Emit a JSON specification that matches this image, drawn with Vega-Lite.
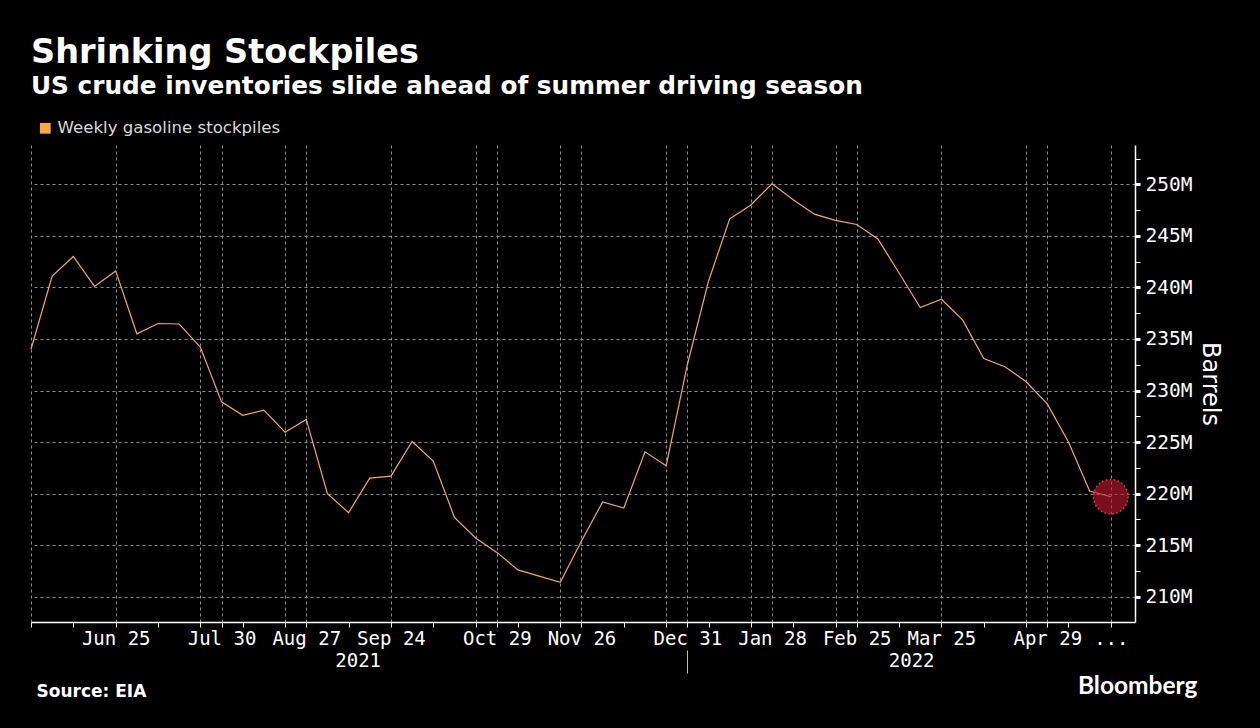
{
  "$schema": "https://vega.github.io/schema/vega-lite/v6.json",
  "width": 1104,
  "height": 477,
  "autosize": {"type": "none"},
  "padding": {"left": 31, "top": 145, "right": 125, "bottom": 106},
  "background": "#000000",
  "title": {
    "text": "Shrinking Stockpiles",
    "subtitle": "US crude inventories slide ahead of summer driving season",
    "anchor": "start",
    "frame": "group",
    "font": "DejaVu Sans",
    "fontSize": 33.5,
    "fontWeight": "bold",
    "color": "#ffffff",
    "subtitleFont": "DejaVu Sans",
    "subtitleFontSize": 24.75,
    "subtitleFontWeight": "bold",
    "subtitleColor": "#ffffff",
    "subtitlePadding": 4,
    "offset": 20
  },
  "config": {"view": {"stroke": null}},
  "data": {
    "values": [
      {"date": "2021-05-28", "value": 234.0},
      {"date": "2021-06-04", "value": 241.1},
      {"date": "2021-06-11", "value": 243.0},
      {"date": "2021-06-18", "value": 240.1},
      {"date": "2021-06-25", "value": 241.6},
      {"date": "2021-07-02", "value": 235.5},
      {"date": "2021-07-09", "value": 236.5},
      {"date": "2021-07-16", "value": 236.45},
      {"date": "2021-07-23", "value": 234.2},
      {"date": "2021-07-30", "value": 228.9},
      {"date": "2021-08-06", "value": 227.6},
      {"date": "2021-08-13", "value": 228.1},
      {"date": "2021-08-20", "value": 225.95},
      {"date": "2021-08-27", "value": 227.2},
      {"date": "2021-09-03", "value": 220.0},
      {"date": "2021-09-10", "value": 218.15},
      {"date": "2021-09-17", "value": 221.5},
      {"date": "2021-09-24", "value": 221.7},
      {"date": "2021-10-01", "value": 225.05},
      {"date": "2021-10-08", "value": 223.15},
      {"date": "2021-10-15", "value": 217.7},
      {"date": "2021-10-22", "value": 215.7},
      {"date": "2021-10-29", "value": 214.3},
      {"date": "2021-11-05", "value": 212.6},
      {"date": "2021-11-12", "value": 212.0},
      {"date": "2021-11-19", "value": 211.4},
      {"date": "2021-11-26", "value": 215.4},
      {"date": "2021-12-03", "value": 219.2},
      {"date": "2021-12-10", "value": 218.6},
      {"date": "2021-12-17", "value": 224.05},
      {"date": "2021-12-24", "value": 222.7},
      {"date": "2021-12-31", "value": 232.5},
      {"date": "2022-01-07", "value": 240.6},
      {"date": "2022-01-14", "value": 246.65},
      {"date": "2022-01-21", "value": 248.0},
      {"date": "2022-01-28", "value": 250.05},
      {"date": "2022-02-04", "value": 248.5},
      {"date": "2022-02-11", "value": 247.1},
      {"date": "2022-02-18", "value": 246.5},
      {"date": "2022-02-25", "value": 246.1},
      {"date": "2022-03-04", "value": 244.7},
      {"date": "2022-03-11", "value": 241.4},
      {"date": "2022-03-18", "value": 238.05},
      {"date": "2022-03-25", "value": 238.85},
      {"date": "2022-04-01", "value": 236.85},
      {"date": "2022-04-08", "value": 233.1},
      {"date": "2022-04-15", "value": 232.3},
      {"date": "2022-04-22", "value": 230.85},
      {"date": "2022-04-29", "value": 228.7},
      {"date": "2022-05-06", "value": 225.0},
      {"date": "2022-05-13", "value": 220.25},
      {"date": "2022-05-20", "value": 219.7}
    ]
  },
  "layer": [
    {
      "mark": {"type": "line", "strokeWidth": 1.2, "interpolate": "linear"},
      "encoding": {
        "x": {
          "field": "date",
          "type": "temporal",
          "scale": {
            "type": "utc",
            "domain": [
              {"year": 2021, "month": 5, "date": 28, "utc": true},
              {"year": 2022, "month": 5, "date": 28, "utc": true}
            ]
          },
          "axis": {
            "orient": "bottom",
            "values": [
              {"year": 2021, "month": 5, "date": 28, "utc": true},
              {"year": 2021, "month": 6, "date": 11, "utc": true},
              {"year": 2021, "month": 6, "date": 25, "utc": true},
              {"year": 2021, "month": 7, "date": 9, "utc": true},
              {"year": 2021, "month": 7, "date": 23, "utc": true},
              {"year": 2021, "month": 7, "date": 30, "utc": true},
              {"year": 2021, "month": 8, "date": 6, "utc": true},
              {"year": 2021, "month": 8, "date": 20, "utc": true},
              {"year": 2021, "month": 8, "date": 27, "utc": true},
              {"year": 2021, "month": 9, "date": 10, "utc": true},
              {"year": 2021, "month": 9, "date": 24, "utc": true},
              {"year": 2021, "month": 10, "date": 8, "utc": true},
              {"year": 2021, "month": 10, "date": 22, "utc": true},
              {"year": 2021, "month": 10, "date": 29, "utc": true},
              {"year": 2021, "month": 11, "date": 5, "utc": true},
              {"year": 2021, "month": 11, "date": 19, "utc": true},
              {"year": 2021, "month": 11, "date": 26, "utc": true},
              {"year": 2021, "month": 12, "date": 10, "utc": true},
              {"year": 2021, "month": 12, "date": 24, "utc": true},
              {"year": 2021, "month": 12, "date": 31, "utc": true},
              {"year": 2022, "month": 1, "date": 7, "utc": true},
              {"year": 2022, "month": 1, "date": 21, "utc": true},
              {"year": 2022, "month": 1, "date": 28, "utc": true},
              {"year": 2022, "month": 2, "date": 4, "utc": true},
              {"year": 2022, "month": 2, "date": 18, "utc": true},
              {"year": 2022, "month": 2, "date": 25, "utc": true},
              {"year": 2022, "month": 3, "date": 11, "utc": true},
              {"year": 2022, "month": 3, "date": 25, "utc": true},
              {"year": 2022, "month": 4, "date": 8, "utc": true},
              {"year": 2022, "month": 4, "date": 22, "utc": true},
              {"year": 2022, "month": 4, "date": 29, "utc": true},
              {"year": 2022, "month": 5, "date": 6, "utc": true},
              {"year": 2022, "month": 5, "date": 20, "utc": true}
            ],
            "domain": true,
            "domainColor": "#ffffff",
            "domainWidth": 1.5,
            "ticks": true,
            "tickSize": 5,
            "tickColor": "#ffffff",
            "tickWidth": 1,
            "labelExpr": "indexof(['06-25','07-30','08-27','09-24','10-29','11-26','12-31','01-28','02-25','03-25','04-29'], utcFormat(datum.value, '%m-%d')) >= 0 ? utcFormat(datum.value, '%b %d') : (utcFormat(datum.value, '%m-%d') == '05-20' ? '...' : '')",
            "labelFont": "DejaVu Sans Mono",
            "labelFontSize": 19,
            "labelColor": "#ffffff",
            "labelPadding": 2,
            "labelOverlap": false,
            "labelFlush": false,
            "labelBound": false,
            "grid": true,
            "gridColor": "#8a8a8a",
            "gridDash": [3, 3],
            "gridWidth": 1,
            "gridOpacity": {
              "condition": {
                "test": "indexof(['05-28','06-25','07-23','07-30','08-20','08-27','09-24','10-22','10-29','11-19','11-26','12-24','12-31','01-21','01-28','02-18','02-25','03-25','04-22','04-29','05-20'], utcFormat(datum.value, '%m-%d')) >= 0",
                "value": 1
              },
              "value": 0
            },
            "title": "Source: EIA",
            "titleX": 5,
            "titleY": 74,
            "titleAlign": "left",
            "titleBaseline": "alphabetic",
            "titleFont": "DejaVu Sans",
            "titleFontWeight": "bold",
            "titleFontSize": 17,
            "titleColor": "#ffffff"
          }
        },
        "y": {
          "field": "value",
          "type": "quantitative",
          "scale": {"domain": [207.55, 253.81], "zero": false, "nice": false},
          "axis": {
            "orient": "right",
            "values": [210, 212.5, 215, 217.5, 220, 222.5, 225, 227.5, 230, 232.5, 235, 237.5, 240, 242.5, 245, 247.5, 250, 252.5],
            "domain": true,
            "domainColor": "#ffffff",
            "domainWidth": 1.5,
            "tickSize": 5,
            "tickColor": "#ffffff",
            "tickWidth": {
              "condition": {"test": "datum.value % 5 == 0", "value": 3},
              "value": 1
            },
            "labelExpr": "datum.value % 5 == 0 ? datum.value + 'M' : ''",
            "labelFont": "DejaVu Sans Mono",
            "labelFontSize": 19.5,
            "labelColor": "#ffffff",
            "labelPadding": 5,
            "labelAlign": "left",
            "labelBaseline": "middle",
            "labelOverlap": false,
            "labelBound": false,
            "labelFlush": false,
            "grid": true,
            "gridColor": "#8a8a8a",
            "gridDash": [3, 3],
            "gridWidth": 1,
            "gridOpacity": {
              "condition": {"test": "datum.value % 5 == 0", "value": 1},
              "value": 0
            },
            "title": "Barrels",
            "titleFont": "DejaVu Sans",
            "titleFontSize": 24,
            "titleFontWeight": "normal",
            "titleColor": "#ffffff",
            "titlePadding": 6,
            "titleAngle": 90
          }
        },
        "color": {
          "datum": "Weekly gasoline stockpiles",
          "type": "nominal",
          "scale": {"range": ["#f0aa64"]},
          "legend": {
            "title": null,
            "orient": "none",
            "legendX": 6,
            "legendY": -25,
            "symbolType": "square",
            "symbolSize": 115,
            "symbolFillColor": "#f9a940",
            "symbolStrokeColor": "#f9a940",
            "symbolStrokeWidth": 0,
            "labelFont": "DejaVu Sans",
            "labelFontSize": 16.6,
            "labelColor": "#d9d9d9",
            "labelOffset": 4,
            "labelLimit": 500,
            "padding": 0
          }
        }
      }
    },
    {
      "transform": [
        {"filter": "utcyear(datum.date) == 2022 && utcmonth(datum.date) == 4 && utcdate(datum.date) == 20"}
      ],
      "mark": {
        "type": "point",
        "shape": "circle",
        "filled": true,
        "size": 1200,
        "fill": "#cc1a33",
        "fillOpacity": 0.6,
        "stroke": "#ff4a5a",
        "strokeWidth": 1.5,
        "strokeDash": [1.5, 2.5],
        "strokeOpacity": 0.85
      },
      "encoding": {
        "x": {
          "field": "date",
          "type": "temporal",
          "axis": {
            "orient": "bottom",
            "values": [
              {"year": 2021, "month": 9, "date": 13, "utc": true},
              {"year": 2021, "month": 12, "date": 31, "utc": true},
              {"year": 2022, "month": 3, "date": 15, "utc": true}
            ],
            "offset": 28,
            "domain": false,
            "grid": false,
            "ticks": true,
            "tickSize": 23,
            "tickColor": "#bdbdbd",
            "tickWidth": 1,
            "tickOpacity": {
              "condition": {"test": "utcmonth(datum.value) == 11", "value": 1},
              "value": 0
            },
            "labelExpr": "utcmonth(datum.value) == 11 ? '' : utcFormat(datum.value, '%Y')",
            "labelPadding": -22,
            "labelFont": "DejaVu Sans Mono",
            "labelFontSize": 19,
            "labelColor": "#ffffff",
            "labelOverlap": false,
            "labelFlush": false,
            "labelBound": false,
            "title": "Bloomberg",
            "titleX": 1166,
            "titleY": 43,
            "titleAlign": "right",
            "titleBaseline": "alphabetic",
            "titleFont": "Lato",
            "titleFontSize": 24.5,
            "titleFontWeight": "bold",
            "titleColor": "#ffffff"
          }
        },
        "y": {"field": "value", "type": "quantitative", "axis": null}
      }
    }
  ],
  "resolve": {"axis": {"x": "independent", "y": "independent"}}
}
